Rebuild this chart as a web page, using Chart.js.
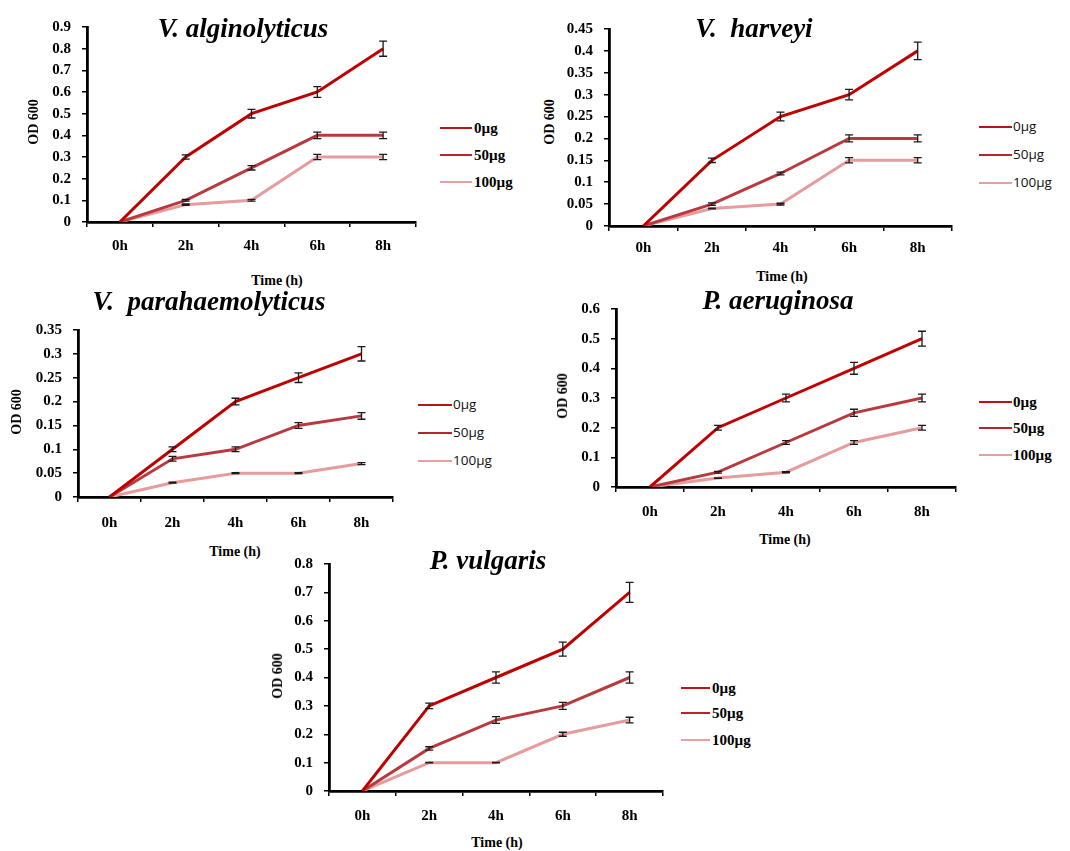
<!DOCTYPE html>
<html>
<head>
<meta charset="utf-8">
<script src="https://cdn.jsdelivr.net/npm/chart.js@4.4.1/dist/chart.umd.min.js"></script>
<style>
  html, body { margin: 0; padding: 0; background: #fff; }
  body { position: relative; width: 1070px; height: 851px; overflow: hidden; }
  canvas { position: absolute; }
  .txt { position: absolute; transform: translate(-50%, -50%); white-space: pre; line-height: 1; color: #000; }
  .title { font-family: "Liberation Serif", "Times New Roman", serif; font-weight: bold; font-style: italic; font-size: 27px; }
  .axis { font-family: "Liberation Serif", "Times New Roman", serif; font-weight: bold; font-size: 14px; }
  .ylab { transform: translate(-50%, -50%) rotate(-90deg); }
  .leg { position: absolute; line-height: 1; white-space: pre; transform: translateY(-50%); }
  .leg.serif { font-family: "Liberation Serif", "Times New Roman", serif; font-weight: bold; font-size: 15px; }
  .leg.sans { font-family: "Open Sans", "Liberation Sans", sans-serif; font-size: 13.5px; color: #111; }
  .legline { position: absolute; height: 2px; transform: translateY(-50%); }
</style>
</head>
<body>
<script>
// Sampling times and treatment doses shared by every panel
const timePoints = ['0h', '2h', '4h', '6h', '8h'];
const doses = ['0µg', '50µg', '100µg'];

// V. alginolyticus — OD600 means and error
const alginolyticus0 = [0, 0.30, 0.50, 0.60, 0.80];
const alginolyticus50 = [0, 0.10, 0.25, 0.40, 0.40];
const alginolyticus100 = [0, 0.08, 0.10, 0.30, 0.30];
const alginolyticus0Err = [0, 0.010, 0.020, 0.025, 0.035];
const alginolyticus50Err = [0, 0.004, 0.010, 0.015, 0.015];
const alginolyticus100Err = [0, 0.003, 0.004, 0.012, 0.012];
const alginolyticusTicks = ['0', '0.1', '0.2', '0.3', '0.4', '0.5', '0.6', '0.7', '0.8', '0.9'];

// V. harveyi
const harveyi0 = [0, 0.15, 0.25, 0.30, 0.40];
const harveyi50 = [0, 0.05, 0.12, 0.20, 0.20];
const harveyi100 = [0, 0.04, 0.05, 0.15, 0.15];
const harveyi0Err = [0, 0.005, 0.010, 0.012, 0.020];
const harveyi50Err = [0, 0.003, 0.003, 0.008, 0.008];
const harveyi100Err = [0, 0.001, 0.002, 0.006, 0.006];
const harveyiTicks = ['0', '0.05', '0.1', '0.15', '0.2', '0.25', '0.3', '0.35', '0.4', '0.45'];

// V. parahaemolyticus
const parahaemolyticus0 = [0, 0.10, 0.20, 0.25, 0.30];
const parahaemolyticus50 = [0, 0.08, 0.10, 0.15, 0.17];
const parahaemolyticus100 = [0, 0.03, 0.05, 0.05, 0.07];
const parahaemolyticus0Err = [0, 0.005, 0.007, 0.010, 0.015];
const parahaemolyticus50Err = [0, 0.005, 0.005, 0.006, 0.007];
const parahaemolyticus100Err = [0, 0.001, 0.001, 0.001, 0.002];
const parahaemolyticusTicks = ['0', '0.05', '0.1', '0.15', '0.2', '0.25', '0.3', '0.35'];

// P. aeruginosa
const aeruginosa0 = [0, 0.20, 0.30, 0.40, 0.50];
const aeruginosa50 = [0, 0.05, 0.15, 0.25, 0.30];
const aeruginosa100 = [0, 0.03, 0.05, 0.15, 0.20];
const aeruginosa0Err = [0, 0.008, 0.013, 0.020, 0.025];
const aeruginosa50Err = [0, 0.003, 0.006, 0.012, 0.013];
const aeruginosa100Err = [0, 0.001, 0.002, 0.006, 0.008];
const aeruginosaTicks = ['0', '0.1', '0.2', '0.3', '0.4', '0.5', '0.6'];

// P. vulgaris
const vulgaris0 = [0, 0.30, 0.40, 0.50, 0.70];
const vulgaris50 = [0, 0.15, 0.25, 0.30, 0.40];
const vulgaris100 = [0, 0.10, 0.10, 0.20, 0.25];
const vulgaris0Err = [0, 0.010, 0.020, 0.025, 0.035];
const vulgaris50Err = [0, 0.006, 0.012, 0.012, 0.020];
const vulgaris100Err = [0, 0.001, 0.001, 0.007, 0.010];
const vulgarisTicks = ['0', '0.1', '0.2', '0.3', '0.4', '0.5', '0.6', '0.7', '0.8'];

const lineColors = ['#c00000', '#b83a3e', '#e69c9c'];
const legendColors = ['#b81414', '#b3262b', '#e6a0a0'];

// Per-panel layout: plot frame (l, t, r, b) and text positions
const panels = [
  { name: 'V. alginolyticus', ticks: alginolyticusTicks,
    values: [alginolyticus0, alginolyticus50, alginolyticus100],
    errors: [alginolyticus0Err, alginolyticus50Err, alginolyticus100Err],
    box: { l: 87, t: 21, r: 416, b: 222 }, xPad: 10,
    title: [243, 28], yTitle: [34, 122], xTitle: [277, 281],
    legend: { x1: 440, x2: 472, tx: 474, ys: [128, 155, 182], cls: 'serif' } },
  { name: 'V.  harveyi', ticks: harveyiTicks,
    values: [harveyi0, harveyi50, harveyi100],
    errors: [harveyi0Err, harveyi50Err, harveyi100Err],
    box: { l: 609, t: 23, r: 952, b: 226 }, xPad: 8,
    title: [754, 28], yTitle: [550, 122], xTitle: [782, 277],
    legend: { x1: 979, x2: 1012, tx: 1013, ys: [127, 155, 183], cls: 'sans' } },
  { name: 'V.  parahaemolyticus', ticks: parahaemolyticusTicks,
    values: [parahaemolyticus0, parahaemolyticus50, parahaemolyticus100],
    errors: [parahaemolyticus0Err, parahaemolyticus50Err, parahaemolyticus100Err],
    box: { l: 78, t: 324, r: 393, b: 497 }, xPad: 12,
    title: [209, 301], yTitle: [17, 412], xTitle: [235, 552],
    legend: { x1: 418, x2: 452, tx: 453, ys: [405, 433, 461], cls: 'sans' } },
  { name: 'P. aeruginosa', ticks: aeruginosaTicks,
    values: [aeruginosa0, aeruginosa50, aeruginosa100],
    errors: [aeruginosa0Err, aeruginosa50Err, aeruginosa100Err],
    box: { l: 616, t: 303, r: 956, b: 487 }, xPad: 11,
    title: [778, 300], yTitle: [563, 396], xTitle: [785, 540],
    legend: { x1: 979, x2: 1012, tx: 1013, ys: [402, 428, 455], cls: 'serif' } },
  { name: 'P. vulgaris', ticks: vulgarisTicks,
    values: [vulgaris0, vulgaris50, vulgaris100],
    errors: [vulgaris0Err, vulgaris50Err, vulgaris100Err],
    box: { l: 329, t: 558, r: 663, b: 791 }, xPad: 11,
    title: [488, 560], yTitle: [278, 676], xTitle: [497, 843],
    legend: { x1: 681, x2: 710, tx: 712, ys: [688, 713, 740], cls: 'serif' } }
];

// Vertical error bars with caps, drawn over the lines
const errorBars = {
  id: 'errorBars',
  afterDatasetsDraw(chart) {
    const { ctx } = chart;
    const yScale = chart.scales.y;
    chart.data.datasets.forEach((ds, i) => {
      const meta = chart.getDatasetMeta(i);
      meta.data.forEach((pt, j) => {
        const e = ds.errors[j];
        if (!e) return;
        const v = ds.data[j];
        const yTop = yScale.getPixelForValue(v + e);
        const yBot = yScale.getPixelForValue(v - e);
        const x = pt.x;
        ctx.save();
        ctx.strokeStyle = '#1a1a1a';
        ctx.lineWidth = 1.3;
        ctx.beginPath();
        ctx.moveTo(x, yTop); ctx.lineTo(x, yBot);
        ctx.moveTo(x - 4, yTop); ctx.lineTo(x + 4, yTop);
        ctx.moveTo(x - 4, yBot); ctx.lineTo(x + 4, yBot);
        ctx.stroke();
        ctx.restore();
      });
    });
  }
};

function addText(cls, text, x, y) {
  const d = document.createElement('div');
  d.className = 'txt ' + cls;
  d.textContent = text;
  d.style.left = x + 'px';
  d.style.top = y + 'px';
  document.body.appendChild(d);
}

const serifFont = 'Liberation Serif';

function buildPanel(p) {
  const padTop = 14, padRight = 10, yW = 50, xH = 40;
  const left = p.box.l - yW, top = p.box.t - padTop;
  const w = p.box.r + padRight - left, h = p.box.b + xH - top;
  const cv = document.createElement('canvas');
  cv.width = w; cv.height = h;
  cv.style.left = left + 'px'; cv.style.top = top + 'px';
  cv.style.width = w + 'px'; cv.style.height = h + 'px';
  document.body.appendChild(cv);

  const tickValues = p.ticks.map(Number);

  new Chart(cv, {
    type: 'line',
    data: {
      labels: timePoints,
      datasets: p.values.map((vals, i) => ({
        label: doses[i],
        data: vals,
        errors: p.errors[i],
        borderColor: lineColors[i],
        backgroundColor: lineColors[i],
        borderWidth: 3,
        pointRadius: 0,
        tension: 0,
        fill: false
      }))
    },
    options: {
      responsive: false,
      animation: false,
      devicePixelRatio: 1,
      layout: { padding: { top: padTop, right: padRight, left: 0, bottom: 0 } },
      plugins: { legend: { display: false }, tooltip: { enabled: false } },
      scales: {
        x: {
          offset: true,
          grid: { display: true, offset: true, drawOnChartArea: false, drawTicks: true,
                  tickLength: 5, color: '#000', lineWidth: 1.5 },
          border: { display: true, color: '#000', width: 2.8 },
          ticks: { color: '#000', padding: p.xPad, maxRotation: 0, autoSkip: false,
                   font: { family: serifFont, weight: 'bold', size: 15 } },
          afterFit(s) { s.height = xH; }
        },
        y: {
          min: 0,
          max: tickValues[tickValues.length - 1],
          afterBuildTicks(s) { s.ticks = tickValues.map(v => ({ value: v })); },
          grid: { display: true, drawOnChartArea: false, drawTicks: true,
                  tickLength: 5, color: '#000', lineWidth: 1.5 },
          border: { display: true, color: '#000', width: 2.8 },
          ticks: { color: '#000', padding: 11,
                   font: { family: serifFont, weight: 'bold', size: 15 },
                   callback: (v, idx) => p.ticks[idx] },
          afterFit(s) { s.width = yW; }
        }
      }
    },
    plugins: [errorBars]
  });

  addText('title', p.name, p.title[0], p.title[1]);
  addText('axis ylab', 'OD 600', p.yTitle[0], p.yTitle[1]);
  addText('axis', 'Time (h)', p.xTitle[0], p.xTitle[1]);

  const lg = p.legend;
  doses.forEach((d, i) => {
    const ln = document.createElement('div');
    ln.className = 'legline';
    ln.style.left = lg.x1 + 'px';
    ln.style.width = (lg.x2 - lg.x1) + 'px';
    ln.style.top = lg.ys[i] + 'px';
    ln.style.background = legendColors[i];
    document.body.appendChild(ln);
    const t = document.createElement('div');
    t.className = 'leg ' + lg.cls;
    t.textContent = d;
    t.style.left = lg.tx + 'px';
    t.style.top = lg.ys[i] + 'px';
    document.body.appendChild(t);
  });
}

panels.forEach(buildPanel);
</script>
</body>
</html>
